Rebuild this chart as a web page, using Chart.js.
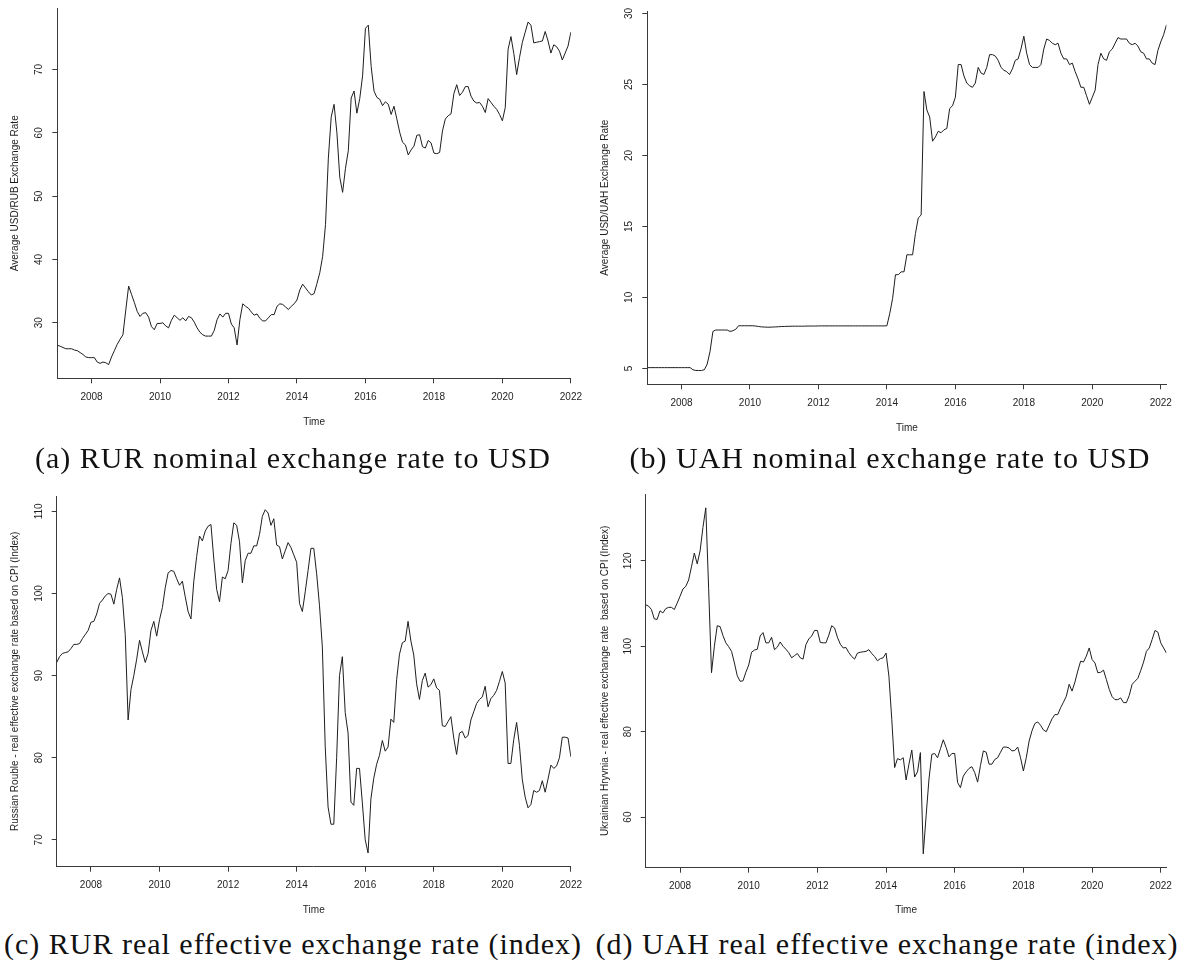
<!DOCTYPE html>
<html>
<head>
<meta charset="utf-8">
<script src="https://cdn.jsdelivr.net/npm/chart.js@4.4.1/dist/chart.umd.min.js"></script>
<style>
  html, body { margin: 0; padding: 0; background: #fff; }
  body { width: 1180px; height: 972px; position: relative; overflow: hidden; }
  canvas { position: absolute; }
  .cap {
    position: absolute; width: 590px; text-align: center; white-space: nowrap;
    font-family: "Liberation Serif", "Times New Roman", serif;
    font-size: 30px; line-height: 30px; letter-spacing: 1px; color: #111;
  }
</style>
</head>
<body>
<canvas id="panelA"></canvas>
<canvas id="panelB"></canvas>
<canvas id="panelC"></canvas>
<canvas id="panelD"></canvas>
<div class="cap" style="left:-2px; top:443px;">(a) RUR nominal exchange rate to USD</div>
<div class="cap" style="left:595px; top:443px;">(b) UAH nominal exchange rate to USD</div>
<div class="cap" style="left:-2px; top:929px;">(c) RUR real effective exchange rate (index)</div>
<div class="cap" style="left:592px; top:929px;">(d) UAH real effective exchange rate (index)</div>
<script>
// Monthly series, first observation January 2007
const START_YEAR = 2007;

// Average USD/RUB exchange rate, Jan 2007 - Jan 2022
const rubUsd = [
  26.46, 26.3, 26.1, 25.9, 25.9, 25.9, 25.7, 25.6, 25.3, 25.0, 24.6, 24.5,
  24.5, 24.5, 23.8, 23.6, 23.8, 23.7, 23.4, 24.6, 25.6, 26.6, 27.4, 28.1,
  32.0, 35.8, 34.5, 33.2, 31.8, 31.0, 31.5, 31.6, 30.9, 29.4, 28.9, 29.9,
  29.9, 30.0, 29.5, 29.2, 30.4, 31.2, 30.8, 30.4, 30.8, 30.3, 31.0, 30.8,
  30.1, 29.2, 28.5, 28.1, 27.9, 27.9, 27.9, 28.8, 30.5, 31.4, 30.9, 31.5,
  31.5, 29.8, 29.2, 26.5, 30.5, 33.0, 32.6, 32.3, 31.7, 31.2, 31.4, 30.7,
  30.3, 30.3, 30.8, 31.3, 31.3, 32.6, 33.0, 32.9, 32.5, 32.1, 32.6, 33.0,
  33.6, 35.2, 36.1, 35.5, 34.9, 34.4, 34.6, 36.2, 37.9, 40.5, 45.5, 56.0,
  62.5, 64.5, 60.0, 53.0, 50.6, 54.4, 57.2, 65.5, 66.6, 63.1, 65.4, 69.0,
  76.5, 77.0, 70.5, 66.6, 65.6, 65.3, 64.3, 64.9, 64.5, 62.9, 64.2, 62.2,
  60.1, 58.5, 58.1, 56.5, 57.3, 57.9, 59.6, 59.7, 57.8, 57.6, 58.8, 58.4,
  56.8, 56.7, 56.9, 60.3, 62.2, 62.7, 63.0, 66.2, 67.6, 65.9, 66.4, 67.3,
  67.3, 65.8, 65.0, 64.7, 64.8, 64.2, 63.2, 65.4, 64.8, 64.2, 63.7, 62.9,
  61.9, 64.0, 73.2, 75.2, 72.5, 69.2, 71.9, 74.3, 75.9, 77.5, 77.0, 74.2,
  74.3, 74.4, 74.5, 76.0, 74.5, 72.6, 73.9, 73.6, 72.9, 71.5, 72.6, 73.7,
  75.9
];

// Average USD/UAH exchange rate, Jan 2007 - Mar 2022
const uahUsd = [
  5.05, 5.05, 5.05, 5.05, 5.05, 5.05, 5.05, 5.05, 5.05, 5.05, 5.05, 5.05,
  5.05, 5.05, 5.05, 5.05, 4.9, 4.85, 4.85, 4.85, 4.9, 5.3, 6.2, 7.6,
  7.7, 7.7, 7.7, 7.7, 7.7, 7.6, 7.65, 7.75, 8.0, 8.0, 8.0, 8.0,
  8.0, 8.0, 7.98, 7.95, 7.92, 7.91, 7.9, 7.9, 7.91, 7.92, 7.93, 7.95,
  7.95, 7.96, 7.96, 7.97, 7.97, 7.97, 7.97, 7.97, 7.98, 7.98, 7.98, 7.98,
  7.99, 7.99, 7.99, 7.99, 7.99, 7.99, 7.99, 7.99, 7.99, 7.99, 7.99, 7.99,
  7.99, 7.99, 7.99, 7.99, 7.99, 7.99, 7.99, 7.99, 7.99, 7.99, 7.99, 7.99,
  8.0, 8.87, 9.93, 11.6, 11.6, 11.8, 11.8, 13.0, 13.0, 13.0, 14.5, 15.6,
  15.8, 24.5, 23.2, 22.7, 21.0, 21.3, 21.7, 21.6, 21.8, 21.9, 23.3, 23.5,
  24.1, 26.4, 26.4, 25.6, 25.1, 24.9, 24.8, 25.1, 26.2, 25.8, 25.7, 26.2,
  27.1, 27.1, 27.0, 26.7, 26.2, 26.0, 25.9, 25.7, 26.1, 26.7, 26.8, 27.5,
  28.4, 27.2, 26.4, 26.2, 26.2, 26.2, 26.4, 27.5, 28.2, 28.1, 27.9, 27.8,
  27.9, 27.2, 26.8, 26.8, 26.4, 26.5, 25.9, 25.4, 24.8, 24.8, 24.2, 23.6,
  24.1, 24.6, 26.4, 27.2, 26.8, 26.7, 27.3, 27.5, 27.9, 28.3, 28.2, 28.2,
  28.2, 27.9, 27.8, 27.9, 27.7, 27.3, 27.2, 26.8, 26.8, 26.5, 26.4, 27.4,
  28.0, 28.5, 29.2
];

// Russian Rouble real effective exchange rate (CPI based), Jan 2007 - Jan 2022
const rubReer = [
  91.6, 92.3, 92.7, 92.8, 92.9, 93.3, 93.8, 93.8, 93.9, 94.5, 95.0, 95.5,
  96.5, 96.6, 97.5, 98.8, 99.2, 99.7, 100.0, 99.9, 98.7, 100.5, 101.9, 99.5,
  95.0, 84.6, 88.3, 90.0, 92.0, 94.3, 92.9, 91.6, 92.7, 95.5, 96.6, 94.8,
  96.8, 98.3, 100.7, 102.5, 102.8, 102.7, 101.8, 101.0, 101.5, 99.6, 97.8, 96.9,
  101.5, 104.5, 107.0, 106.4, 107.6, 108.2, 108.4, 104.2, 100.5, 99.0, 102.0, 101.8,
  102.8, 106.1, 108.6, 108.3, 106.3, 101.3, 104.0, 104.9, 104.9, 105.8, 105.8, 107.2,
  109.4, 110.2, 109.8, 108.3, 109.1, 105.9, 105.7, 104.2, 105.2, 106.2, 105.6, 104.7,
  103.8, 98.8, 97.8, 100.2, 102.8, 105.5, 105.5, 102.4, 98.5, 93.5, 81.4, 74.0,
  71.9, 71.9, 80.0, 90.0, 92.3, 85.5, 83.0, 74.6, 74.2, 78.7, 78.7, 74.5,
  70.0, 68.4, 75.0, 77.5, 79.2, 80.3, 82.1, 80.8, 81.3, 84.7, 84.3, 89.5,
  92.6, 94.0, 94.2, 96.6, 94.2, 92.5, 89.0, 87.1, 89.4, 90.3, 88.6, 88.9,
  89.6, 88.5, 88.2, 83.9, 83.8, 84.4, 85.0, 82.4, 80.4, 83.0, 83.2, 82.4,
  82.7, 84.6, 85.6, 86.6, 87.1, 87.4, 88.7, 86.2, 87.2, 87.6, 88.2, 89.3,
  90.5, 89.1, 79.3, 79.3, 82.2, 84.3, 81.5, 77.3, 75.2, 73.9, 74.3, 76.0,
  75.8, 76.0, 77.2, 75.8, 77.4, 79.1, 78.7, 79.0, 80.0, 82.5, 82.5, 82.4,
  80.1
];

// Ukrainian Hryvnia real effective exchange rate (CPI based), Jan 2007 - Mar 2022
const uahReer = [
  109.7, 109.4, 108.6, 106.4, 106.3, 108.3, 107.8, 108.8, 109.1, 109.1, 108.6, 110.1,
  111.7, 113.4, 114.0, 115.5, 118.6, 121.8, 119.3, 122.3, 127.8, 132.4, 113.5, 93.8,
  100.0, 104.8, 104.6, 102.5, 100.8, 99.9, 98.8, 96.1, 93.1, 91.8, 91.9, 93.9,
  95.6, 98.6, 99.1, 99.3, 102.4, 103.2, 100.8, 100.8, 102.1, 99.2, 99.8, 101.0,
  100.0, 99.3, 98.5, 97.3, 97.8, 98.3, 97.3, 97.0, 100.4, 101.7, 102.4, 103.7,
  103.7, 100.9, 100.8, 100.8, 102.6, 104.8, 104.3, 102.1, 100.5, 99.6, 99.7, 98.5,
  97.6, 97.0, 98.4, 98.6, 98.7, 98.8, 99.2, 98.3, 97.6, 96.6, 97.1, 97.3,
  98.4, 93.0, 82.9, 71.6, 73.7, 73.4, 73.9, 68.7, 72.4, 75.7, 69.4, 70.6,
  75.1, 51.4, 60.3, 68.9, 74.7, 74.9, 73.9, 76.0, 78.1, 76.3, 74.1, 74.9,
  74.9, 68.1, 66.9, 69.6, 70.6, 71.4, 71.8, 70.4, 68.2, 72.1, 75.5, 75.2,
  72.4, 72.4, 73.5, 73.9, 75.2, 76.4, 76.4, 76.2, 75.5, 75.6, 76.4, 73.9,
  70.8, 73.9, 77.8, 80.2, 81.9, 82.3, 81.5, 80.4, 80.0, 81.5, 83.0, 84.0,
  84.0, 85.6, 86.9, 88.3, 91.1, 89.5, 91.6, 94.2, 96.5, 96.3, 97.7, 99.6,
  96.9, 96.1, 93.8, 93.9, 94.4, 92.2, 89.9, 88.2, 87.5, 87.5, 87.9, 86.8,
  86.8, 88.5, 91.1, 91.8, 92.5, 94.3, 96.3, 98.8, 99.6, 101.6, 103.7, 103.3,
  100.8, 99.6, 98.4
];

// Axis tick labels
const yearTicks = [2008, 2010, 2012, 2014, 2016, 2018, 2020, 2022];
const rubUsdTicks = [30, 40, 50, 60, 70];
const uahUsdTicks = [5, 10, 15, 20, 25, 30];
const rubReerTicks = [70, 80, 90, 100, 110];
const uahReerTicks = [60, 80, 100, 120];

const SANS = '"Liberation Sans", Arial, Helvetica, sans-serif';
const INK = '#1e1e1e';
const AXIS = '#3a3a3a';

function monthly(values) {
  return values.map((v, i) => ({ x: START_YEAR + i / 12, y: v }));
}

// Value range widened by 4% on each side, as in base R plots
function paddedRange(values) {
  const lo = Math.min(...values), hi = Math.max(...values);
  const d = (hi - lo) * 0.04;
  return [lo - d, hi + d];
}

function drawPanel(p) {
  const cv = document.getElementById(p.id);
  cv.width = p.box.w; cv.height = p.box.h;
  cv.style.left = p.box.x + 'px'; cv.style.top = p.box.y + 'px';

  const [yMin, yMax] = paddedRange(p.values);
  const xMax = START_YEAR + (p.values.length - 1) / 12;
  const yAxisWidth = p.plot.l - p.box.x;
  const xAxisHeight = p.box.y + p.box.h - p.plot.b;

  // Rotated y tick labels, y axis title and the "Time" label
  const axisText = {
    id: 'axisText',
    afterDraw(chart) {
      const ctx = chart.ctx, ys = chart.scales.y, area = chart.chartArea;
      ctx.save();
      ctx.fillStyle = INK;
      ctx.font = '10px ' + SANS;
      ctx.textAlign = 'center';
      ctx.textBaseline = 'middle';
      p.ticks.forEach(v => {
        ctx.save();
        ctx.translate(p.yLabelX - p.box.x, ys.getPixelForValue(v));
        ctx.rotate(-Math.PI / 2);
        ctx.fillText(String(v), 0, 0);
        ctx.restore();
      });
      ctx.save();
      ctx.translate(p.yTitleX - p.box.x, (area.top + area.bottom) / 2);
      ctx.rotate(-Math.PI / 2);
      ctx.fillText(p.yTitle, 0, 0);
      ctx.restore();
      ctx.fillText('Time', (area.left + area.right) / 2, p.timeY - p.box.y);
      ctx.restore();
    }
  };

  const gridOpts = { display: true, drawOnChartArea: false, drawTicks: true, tickLength: 5, color: AXIS, lineWidth: 1 };
  const borderOpts = { display: true, color: AXIS, width: 1 };

  new Chart(cv, {
    type: 'line',
    data: {
      datasets: [{
        data: monthly(p.values),
        borderColor: INK,
        borderWidth: 1,
        pointRadius: 0,
        tension: 0,
        fill: false
      }]
    },
    options: {
      responsive: false,
      animation: false,
      devicePixelRatio: 1,
      events: [],
      layout: { padding: { left: 0, top: p.plot.t - p.box.y, right: p.box.x + p.box.w - p.plot.r, bottom: 0 } },
      plugins: { legend: { display: false }, tooltip: { enabled: false }, title: { display: false } },
      scales: {
        x: {
          type: 'linear',
          min: START_YEAR,
          max: xMax,
          afterBuildTicks: s => { s.ticks = yearTicks.map(v => ({ value: v })); },
          afterFit: s => { s.height = xAxisHeight; },
          ticks: {
            callback: v => String(v),
            autoSkip: false, maxRotation: 0, minRotation: 0,
            padding: p.xLabelPad, color: INK,
            font: { family: SANS, size: 10 }
          },
          grid: gridOpts,
          border: borderOpts
        },
        y: {
          type: 'linear',
          min: yMin,
          max: yMax,
          afterBuildTicks: s => { s.ticks = p.ticks.map(v => ({ value: v })); },
          afterFit: s => { s.width = yAxisWidth; },
          ticks: { display: false },
          grid: gridOpts,
          border: borderOpts
        }
      }
    },
    plugins: [axisText]
  });
}

drawPanel({
  id: 'panelA', values: rubUsd, ticks: rubUsdTicks,
  yTitle: 'Average USD/RUB Exchange Rate',
  box: { x: 0, y: 0, w: 590, h: 440 },
  plot: { l: 57.3, t: 8.3, r: 573.3, b: 378.3 },
  yLabelX: 39.5, yTitleX: 15, timeY: 422, xLabelPad: 8
});
drawPanel({
  id: 'panelB', values: uahUsd, ticks: uahUsdTicks,
  yTitle: 'Average USD/UAH Exchange Rate',
  box: { x: 590, y: 0, w: 590, h: 440 },
  plot: { l: 647.3, t: 11, r: 1169.3, b: 384.3 },
  yLabelX: 629.5, yTitleX: 605, timeY: 428, xLabelPad: 8
});
drawPanel({
  id: 'panelC', values: rubReer, ticks: rubReerTicks,
  yTitle: 'Russian Rouble - real effective exchange rate based on CPI (Index)',
  box: { x: 0, y: 470, w: 590, h: 455 },
  plot: { l: 56.7, t: 496, r: 574.3, b: 866.7 },
  yLabelX: 39, yTitleX: 15.5, timeY: 910, xLabelPad: 8
});
drawPanel({
  id: 'panelD', values: uahReer, ticks: uahReerTicks,
  yTitle: 'Ukrainian Hryvnia - real effective exchange rate  based on CPI (Index)',
  box: { x: 590, y: 470, w: 590, h: 455 },
  plot: { l: 645.7, t: 494, r: 1167.7, b: 867.7 },
  yLabelX: 628.5, yTitleX: 605, timeY: 910, xLabelPad: 8
});
</script>
</body>
</html>
